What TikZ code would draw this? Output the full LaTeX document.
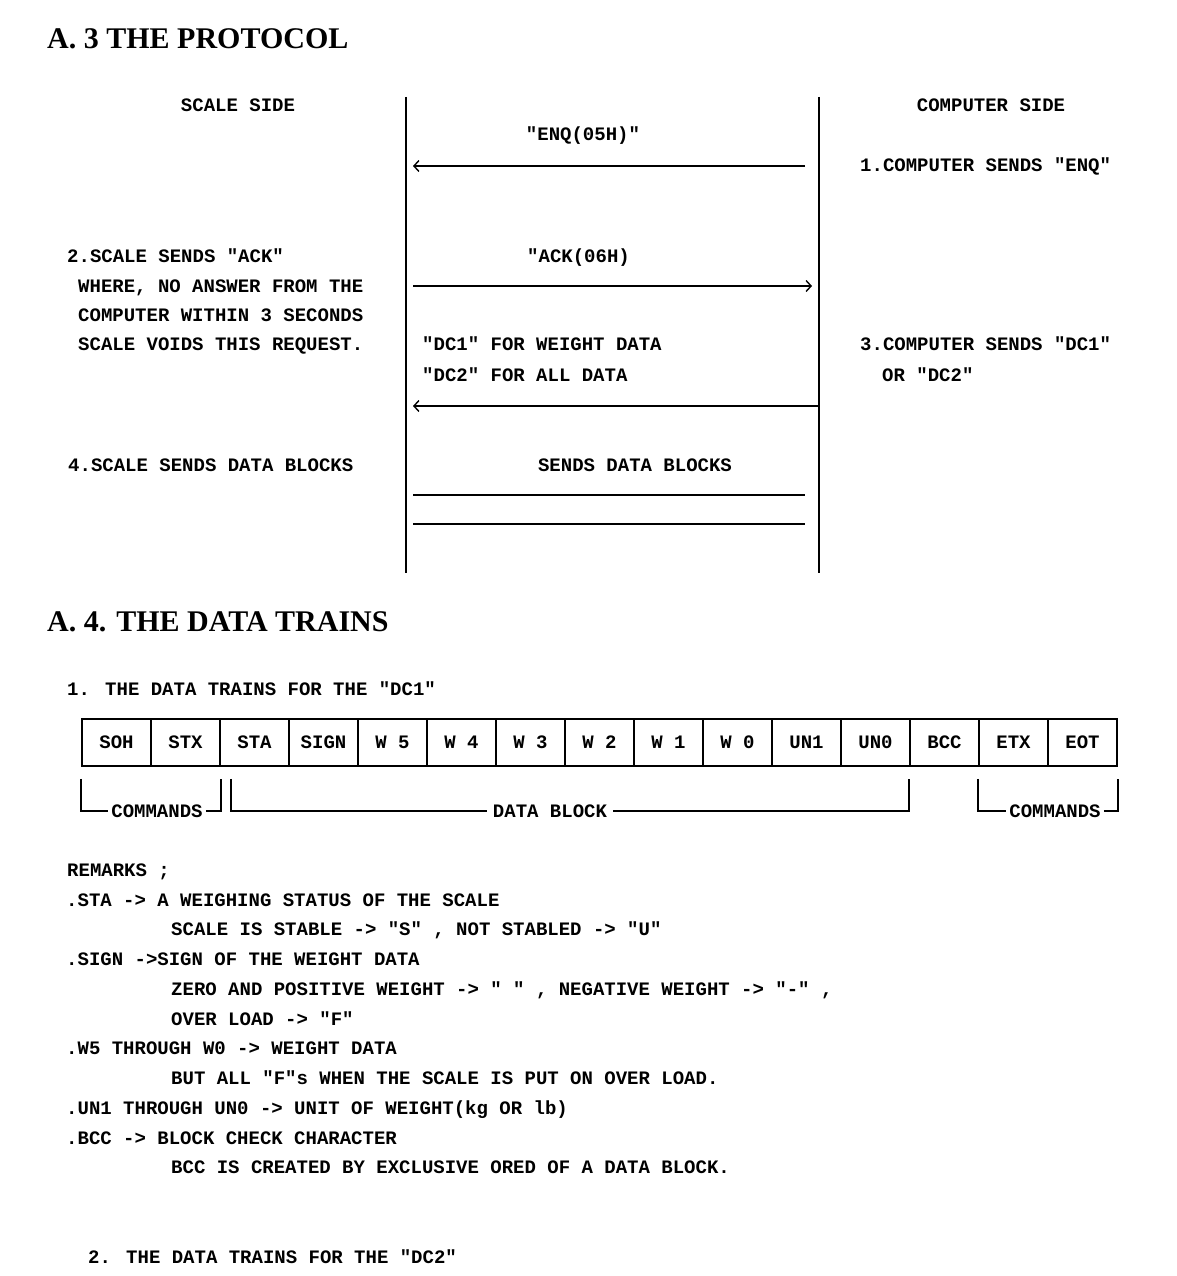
\documentclass[tikz,border=0pt]{standalone}
\usepackage{fontspec}
\setmainfont{Liberation Serif}
\newfontfamily\termfont{Liberation Mono}
\usetikzlibrary{arrows.meta,calc}

\begin{document}
\begin{tikzpicture}[x=1pt,y=-1pt,
  txt/.style={font=\termfont\bfseries\fontsize{19}{19}\selectfont, inner sep=0pt, anchor=base west},
  ctxt/.style={txt, anchor=base},
  lbl/.style={font=\termfont\bfseries\fontsize{19}{19}\selectfont, inner sep=3pt, anchor=center},
  head/.style={font=\bfseries\fontsize{30}{30}\selectfont, inner sep=0pt, anchor=base west},
  life/.style={line width=2pt},
  msg/.style={line width=1.4pt},
  tip/.style={-{Straight Barb[length=5pt,width=11pt,line width=1.4pt]}},
  cell/.style={draw, line width=1.6pt, minimum width=69pt, minimum height=47pt, inner sep=0pt,
    font=\termfont\bfseries\fontsize{19}{19}\selectfont},
  brk/.style={line width=1.6pt}
]
\fill[white] (0,0) rectangle (1176,1276);
\useasboundingbox (0,0) rectangle (1176,1276);

% ---------- A.3 protocol ----------
\node[head] (h3) at (47,49) {A. 3 THE PROTOCOL};

\node[ctxt] (scaleside) at (238,112) {SCALE SIDE};
\node[ctxt] (compside) at (991,112) {COMPUTER SIDE};

% lifelines
\coordinate (sTop) at (406,97);
\coordinate (sBot) at (406,573);
\coordinate (cTop) at (819,97);
\coordinate (cBot) at (819,573);
\draw[life] (sTop) -- (sBot);
\draw[life] (cTop) -- (cBot);

% message 1: ENQ
\node[ctxt] (enq) at (583,141) {"ENQ(05H)"};
\coordinate (m1a) at (805,166);
\coordinate (m1b) at (413,166);
\draw[msg,tip] (m1a) -- (m1b);
\node[txt] (step1) at (860,172) {1.COMPUTER SENDS "ENQ"};

% message 2: ACK
\node[txt] (step2) at (67,262) {2.SCALE SENDS "ACK"};
\node[txt] (ack) at (527,262) {"ACK(06H)};
\coordinate (m2a) at (413,286);
\coordinate (m2b) at (812,286);
\draw[msg,tip] (m2a) -- (m2b);
\node[txt] (note1) at (78,292) {WHERE, NO ANSWER FROM THE};
\node[txt] (note2) at (78,321) {COMPUTER WITHIN 3 SECONDS};
\node[txt] (note3) at (78,350) {SCALE VOIDS THIS REQUEST.};

% message 3: DC1 / DC2
\node[txt] (dc1) at (422,350) {"DC1" FOR WEIGHT DATA};
\node[txt] (dc2) at (422,381) {"DC2" FOR ALL DATA};
\node[txt] (step3) at (860,350) {3.COMPUTER SENDS "DC1"};
\node[txt] (step3b) at (882,381) {OR "DC2"};
\coordinate (m3a) at (818,406);
\coordinate (m3b) at (413,406);
\draw[msg,tip] (m3a) -- (m3b);

% message 4: data blocks
\node[txt] (step4) at (68,471) {4.SCALE SENDS DATA BLOCKS};
\node[ctxt] (sends) at (635,471) {SENDS DATA BLOCKS};
\coordinate (m4a) at (413,495);
\coordinate (m4b) at (805,495);
\coordinate (m5a) at (413,524);
\coordinate (m5b) at (805,524);
\draw[msg] (m4a) -- (m4b);
\draw[msg] (m5a) -- (m5b);

% ---------- A.4 data trains ----------
\node[head] (h4) at (47,631) {A. 4. THE DATA TRAINS};
\node[txt] (dt1) at (67,695) {1. THE DATA TRAINS FOR THE "DC1"};

\foreach \t [count=\i] in {SOH,STX,STA,SIGN,W 5,W 4,W 3,W 2,W 1,W 0,UN1,UN0,BCC,ETX,EOT}
  \node[cell] (c\i) at ({82+69*(\i-1)+34.5},742.5) {\t};

% brackets under the train
\coordinate (b1a) at ($(c1.south west)+(0,12)$);
\coordinate (b1b) at ($(c2.south east)+(0,12)$);
\node[lbl] (cmd1) at (157,811) {COMMANDS};
\draw[brk] (b1a) |- (cmd1.west);
\draw[brk] (cmd1.east) -| (b1b);

\coordinate (b2a) at ($(c3.south west)+(12,12)$);
\coordinate (b2b) at ($(c13.south west)+(0,12)$);
\node[lbl, inner xsep=6pt] (dblk) at (550,811) {DATA BLOCK};
\draw[brk] (b2a) |- (dblk.west);
\draw[brk] (dblk.east) -| (b2b);

\coordinate (b3a) at ($(c14.south west)+(0,12)$);
\coordinate (b3b) at ($(c15.south east)+(0,12)$);
\node[lbl] (cmd2) at (1055,811) {COMMANDS};
\draw[brk] (b3a) |- (cmd2.west);
\draw[brk] (cmd2.east) -| (b3b);

% remarks
\node[txt] (rem) at (67,876) {REMARKS ;};
\node[txt] (r1) at (66,906) {.STA -> A WEIGHING STATUS OF THE SCALE};
\node[txt] (r1b) at (171,935) {SCALE IS STABLE -> "S" , NOT STABLED -> "U"};
\node[txt] (r2) at (66,965) {.SIGN ->SIGN OF THE WEIGHT DATA};
\node[txt] (r2b) at (171,995) {ZERO AND POSITIVE WEIGHT -> " " , NEGATIVE WEIGHT -> "-" ,};
\node[txt] (r2c) at (171,1025) {OVER LOAD -> "F"};
\node[txt] (r3) at (66,1054) {.W5 THROUGH W0 -> WEIGHT DATA};
\node[txt] (r3b) at (171,1084) {BUT ALL "F"s WHEN THE SCALE IS PUT ON OVER LOAD.};
\node[txt] (r4) at (66,1114) {.UN1 THROUGH UN0 -> UNIT OF WEIGHT(kg OR lb)};
\node[txt] (r5) at (66,1144) {.BCC -> BLOCK CHECK CHARACTER};
\node[txt] (r5b) at (171,1173) {BCC IS CREATED BY EXCLUSIVE ORED OF A DATA BLOCK.};

\node[txt] (dt2) at (88,1263) {2. THE DATA TRAINS FOR THE "DC2"};
\end{tikzpicture}
\end{document}
